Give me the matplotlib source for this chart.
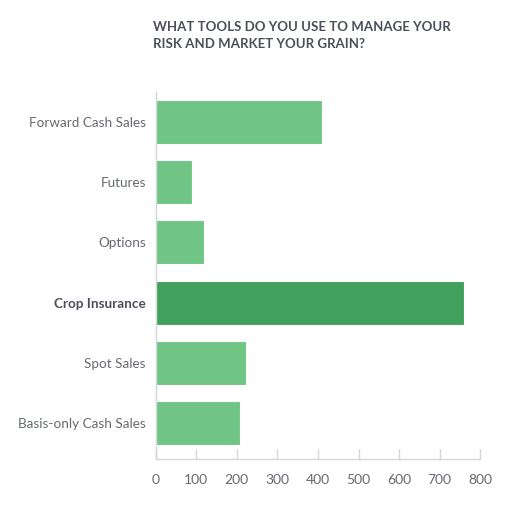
import matplotlib
matplotlib.use("Agg")
import matplotlib.pyplot as plt

# survey answers, top to bottom
tools = ["Forward Cash Sales", "Futures", "Options", "Crop Insurance",
         "Spot Sales", "Basis-only Cash Sales"]
counts = [410, 89, 120, 761, 223, 208]
highlight = "Crop Insurance"
xticks = [0, 100, 200, 300, 400, 500, 600, 700, 800]

plt.rcParams['font.family'] = ['Lato', 'DejaVu Sans']

fig = plt.figure(figsize=(5.23, 5.07), dpi=100)
ax = fig.add_axes([0.2977, 0.0947, 0.6207, 0.7238])

light = "#70c585"
dark = "#41a15c"
colors = [dark if t == highlight else light for t in tools]
ypos = list(range(len(tools)))
ax.barh(ypos, counts, height=0.73, color=colors, edgecolor="white", linewidth=0.8, zorder=2)

ax.set_xlim(0, 800)
ax.set_ylim(5.6, -0.5)
ax.set_xticks(xticks)
ax.set_xticklabels([str(v) for v in xticks])
ax.set_yticks(ypos)
ax.set_yticklabels(tools)

for s in ["top", "right"]:
    ax.spines[s].set_visible(False)
for s in ["left", "bottom"]:
    ax.spines[s].set_color("#d3d6da")
    ax.spines[s].set_linewidth(1.0)

ax.tick_params(axis="x", direction="in", length=7, width=1, color="#d3d6da",
               labelsize=10, labelcolor="#666a70", pad=11)
ax.tick_params(axis="y", length=0, labelsize=9.7, labelcolor="#666a70", pad=7)
for lab in ax.get_yticklabels():
    if lab.get_text() == highlight:
        lab.set_fontweight("bold")
        lab.set_color("#4a4f58")

fig.text(0.293, 0.93, "WHAT TOOLS DO YOU USE TO MANAGE YOUR\nRISK AND MARKET YOUR GRAIN?",
         ha="left", va="center", fontsize=9.5, fontweight="bold", color="#4a4f58",
         linespacing=1.5)

fig.savefig("out.png", dpi=100)
